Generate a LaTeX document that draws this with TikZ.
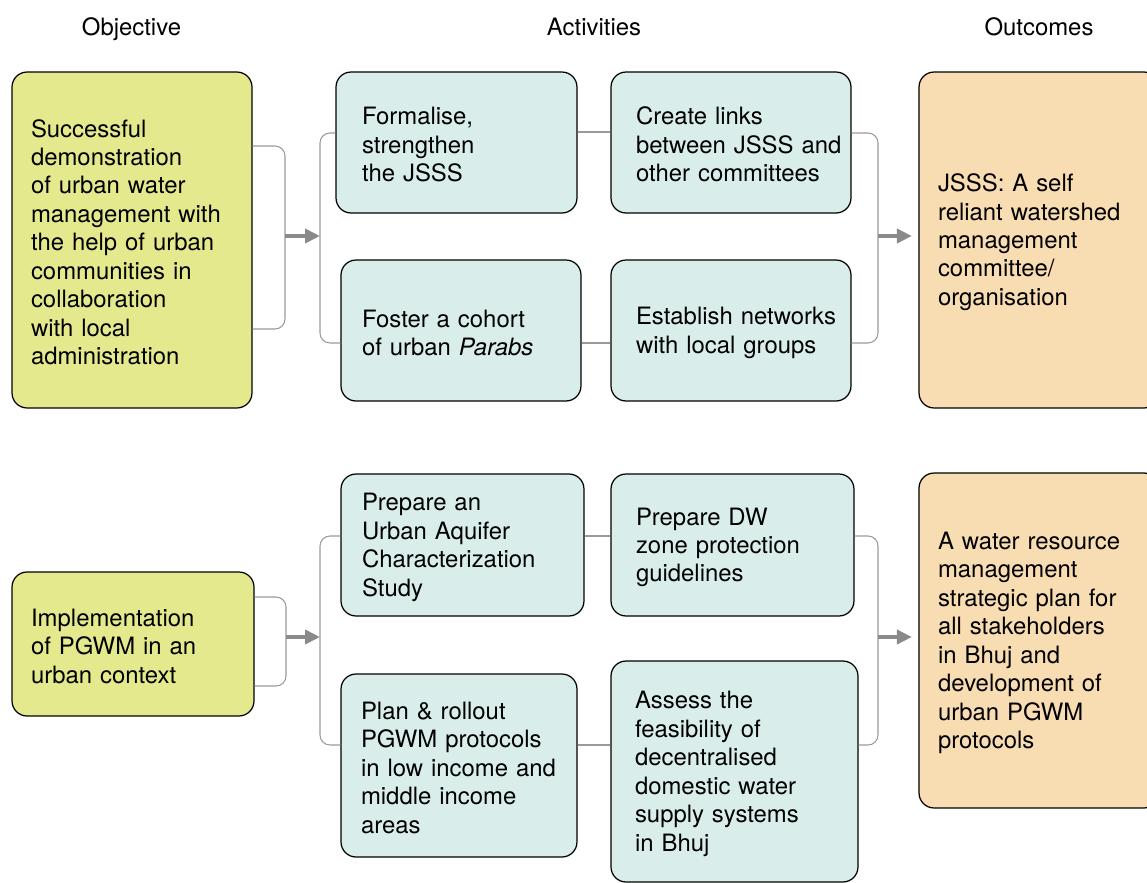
\documentclass[tikz,border=0pt]{standalone}
\usepackage{fontspec}
\setmainfont{TeX Gyre Heros}
\usepackage{tikz}
\usetikzlibrary{positioning,arrows.meta,calc}
\usepackage{xcolor}

\definecolor{objfill}{HTML}{E4E98E}
\definecolor{actfill}{HTML}{D9EEEA}
\definecolor{outfill}{HTML}{F8DCB2}
\definecolor{linkgray}{HTML}{9A9A9A}
\definecolor{flowgray}{HTML}{8A8A8C}

\begin{document}
\begin{tikzpicture}[
            x=0.02cm, y=-0.02cm,
            every node/.style={font=\fontsize{13.6}{16.2}\selectfont},
            box/.style={draw=black, line width=0.7pt, rounded corners=0.3cm, inner xsep=0pt, inner ysep=0pt, text height=12.6pt, align=left},
            objbox/.style={box, fill=objfill},
            actbox/.style={box, fill=actfill},
            outbox/.style={box, fill=outfill},
            head/.style={anchor=base},
            link/.style={linkgray, line width=0.6pt, rounded corners=0.2cm},
            flow/.style={-{Triangle[length=0.3cm, width=0.28cm]}, line width=2.3pt, flowgray}
        ]
            \clip (0,0) rectangle (1147,883);

            % Headings
            \node[head] (hobj) at (131.5,35) {Objective};
            \node[head] (hact) at (594,35) {Activities};
            \node[head] (hout) at (1039,35) {Outcomes};

            % First row
            \node[objbox, minimum width=4.8cm, minimum height=6.72cm, text width=4.04cm] (obj1) at (132,240)
                {Successful\\demonstration\\of urban water\\management with\\the help of urban\\communities in\\collaboration\\with local\\administration};
            \node[actbox, minimum width=4.82cm, minimum height=2.82cm, text width=3.78cm] (act1) at (456.5,142.5)
                {Formalise,\\strengthen\\the JSSS};
            \node[actbox, minimum width=4.8cm, minimum height=2.82cm, text width=3.8cm] (act2) at (731,142.5)
                {Create links\\\mbox{between JSSS and}\\other committees};
            \node[actbox, minimum width=4.8cm, minimum height=2.82cm, text width=3.96cm] (act3) at (461,330.5)
                {Foster a cohort\\of urban \textit{Parabs}};
            \node[actbox, minimum width=4.8cm, minimum height=2.82cm, text width=3.8cm] (act4) at (731,330.5)
                {\mbox{Establish networks}\\with local groups};
            \node[outbox, minimum width=4.8cm, minimum height=6.72cm, text width=4.04cm] (out1) at (1039,240)
                {JSSS: A self\\reliant watershed\\management\\committee/\\organisation};

            % Second row
            \node[objbox, minimum width=4.84cm, minimum height=2.88cm, text width=4.08cm] (obj2) at (133,644)
                {Implementation\\of PGWM in an\\urban context};
            \node[actbox, minimum width=4.86cm, minimum height=2.84cm, text width=4.02cm] (act5) at (462.5,545)
                {Prepare an\\Urban Aquifer\\Characterization\\Study};
            \node[actbox, minimum width=4.86cm, minimum height=2.84cm, text width=3.86cm] (act6) at (732.5,545)
                {Prepare DW\\zone protection\\guidelines};
            \node[actbox, minimum width=4.72cm, minimum height=3.66cm, text width=3.92cm] (act7) at (459,765.5)
                {Plan \& rollout\\PGWM protocols\\in low income and\\middle income\\areas};
            \node[actbox, minimum width=4.94cm, minimum height=4.42cm, text width=3.98cm] (act8) at (734.5,771.5)
                {Assess the\\feasibility of\\decentralised\\domestic water\\supply systems\\in Bhuj};
            \node[outbox, minimum width=4.8cm, minimum height=6.7cm, text width=4.04cm] (out2) at (1039,640.5)
                {A water resource\\management\\strategic plan for\\all stakeholders\\in Bhuj and\\development of\\urban PGWM\\protocols};

            % Bracket joints
            \coordinate (j1) at (285,236);
            \coordinate (k1) at (320,236);
            \coordinate (m1) at (878,236);
            \coordinate (j2) at (286,637);
            \coordinate (k2) at (320,637);
            \coordinate (m2) at (878,637);

            % Brackets and links, first row
            \draw[link] (obj1.east |- 0,146) -| (j1) |- (obj1.east |- 0,329);
            \draw[link] (act1.west |- 0,133) -| (k1) |- (act3.west |- 0,343);
            \draw[link] (act1.east |- 0,132) -- (act2.west |- 0,132);
            \draw[link] (act3.east |- 0,343) -- (act4.west |- 0,343);
            \draw[link] (act2.east |- 0,133) -| (m1) |- (act4.east |- 0,343);

            % Brackets and links, second row
            \draw[link] (obj2.east |- 0,597) -| (j2) |- (obj2.east |- 0,686);
            \draw[link] (act5.west |- 0,536) -| (k2) |- (act7.west |- 0,745);
            \draw[link] (act5.east |- 0,536) -- (act6.west |- 0,536);
            \draw[link] (act7.east |- 0,745) -- (act8.west |- 0,745);
            \draw[link] (act6.east |- 0,536) -| (m2) |- (act8.east |- 0,745);

            % Arrows
            \draw[flow] (j1) -- (k1);
            \draw[flow, shorten >=0.13cm] (m1) -- (m1 -| out1.west);
            \draw[flow] (j2) -- (k2);
            \draw[flow, shorten >=0.13cm] (m2) -- (m2 -| out2.west);

        \end{tikzpicture}
\end{document}
